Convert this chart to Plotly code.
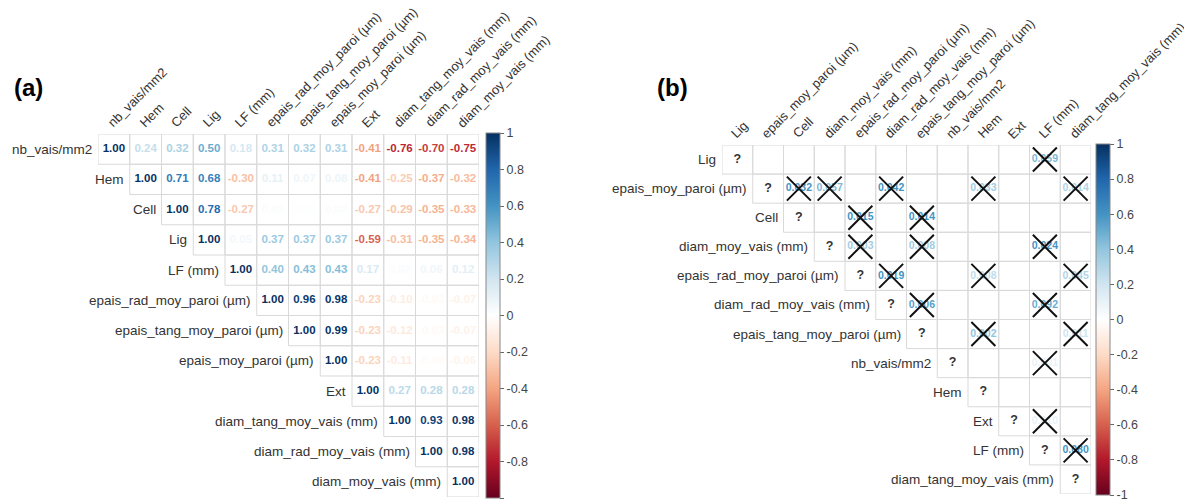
import plotly.graph_objects as go
from plotly.colors import sample_colorscale

# the page body has an 8px margin: work in reference pixels and shift by it
OFF = 8
W, H = 1192 - OFF, 504 - OFF

# ---------------- data ----------------
vars_a = ["nb_vais/mm2", "Hem", "Cell", "Lig", "LF (mm)", "epais_rad_moy_paroi (µm)",
          "epais_tang_moy_paroi (µm)", "epais_moy_paroi (µm)", "Ext",
          "diam_tang_moy_vais (mm)", "diam_rad_moy_vais (mm)", "diam_moy_vais (mm)"]

# upper triangle, row i starts at column i
corr_a = [
    [1.00, 0.24, 0.32, 0.50, 0.18, 0.31, 0.32, 0.31, -0.41, -0.76, -0.70, -0.75],
    [1.00, 0.71, 0.68, -0.30, 0.11, 0.07, 0.08, -0.41, -0.25, -0.37, -0.32],
    [1.00, 0.78, -0.27, 0.02, 0.01, 0.02, -0.27, -0.29, -0.35, -0.33],
    [1.00, 0.05, 0.37, 0.37, 0.37, -0.59, -0.31, -0.35, -0.34],
    [1.00, 0.40, 0.43, 0.43, 0.17, 0.02, 0.06, 0.12],
    [1.00, 0.96, 0.98, -0.23, -0.10, -0.03, -0.07],
    [1.00, 0.99, -0.23, -0.12, -0.03, -0.07],
    [1.00, -0.23, -0.11, -0.02, -0.06],
    [1.00, 0.27, 0.28, 0.28],
    [1.00, 0.93, 0.98],
    [1.00, 0.98],
    [1.00],
]

vars_b = ["Lig", "epais_moy_paroi (µm)", "Cell", "diam_moy_vais (mm)",
          "epais_rad_moy_paroi (µm)", "diam_rad_moy_vais (mm)",
          "epais_tang_moy_paroi (µm)", "nb_vais/mm2", "Hem", "Ext", "LF (mm)",
          "diam_tang_moy_vais (mm)"]

# (b) printed values (row, col, label, colour value) -- all crossed cells
b_row = [0, 1, 1, 1, 1, 1, 2, 2, 3, 3, 3, 4, 4, 4, 5, 5, 6, 6, 7, 9, 10]
b_col = [10, 2, 3, 5, 8, 11, 4, 6, 4, 6, 10, 5, 8, 11, 6, 10, 8, 11, 10, 10, 11]
b_text = ["0.059", "0.032", "0.057", "0.042", "0.033", "0.014", "0.015", "0.014",
          "0.003", "0.008", "0.024", "0.019", "0.008", "0.045", "0.006", "0.092",
          "0.002", "0.011", "0.001", "0.010", "0.080"]
b_shade = [0.45, 0.6, 0.45, 0.6, 0.35, 0.3, 0.6, 0.6, 0.35, 0.35, 0.6, 0.6, 0.25,
           0.3, 0.55, 0.5, 0.4, 0.2, 0.1, 0.1, 0.6]

cbar_ticks = [-1, -0.8, -0.6, -0.4, -0.2, 0, 0.2, 0.4, 0.6, 0.8, 1]
cbar_labels = ["-1", "-0.8", "-0.6", "-0.4", "-0.2", "0", "0.2", "0.4", "0.6", "0.8", "1"]

# ---------------- style ----------------
rdbu = ["#67001F", "#B2182B", "#D6604D", "#F4A582", "#FDDBC7", "#FFFFFF",
        "#D1E5F0", "#92C5DE", "#4393C3", "#2166AC", "#053061"]
cscale = [[i / 10, c] for i, c in enumerate(rdbu)]
FONT = "Liberation Sans, Arial, sans-serif"
LBL = "#333333"
GRID = "#d9d9d9"


def colour(v):
    return sample_colorscale(cscale, [(v + 1) / 2])[0]


def fx(px):          # reference x pixel -> paper fraction
    return (px - OFF) / W


def fy(py):          # reference y pixel -> paper fraction
    return 1 - (py - OFF) / H


fig = go.Figure()

# panel geometry (reference pixels)
A = dict(left=98, right=479, top=134, bottom=497, cb=486)
B = dict(left=722, right=1091, top=145, bottom=494, cb=1096)

n_a = len(vars_a)
n_b = len(vars_b)


def cbar(P, thick):
    return dict(x=fx(P["cb"]), xanchor="left", xpad=0, ypad=0,
                y=fy((P["top"] + P["bottom"]) / 2), yanchor="middle",
                lenmode="pixels", len=P["bottom"] - P["top"] + 2,
                thickness=thick, outlinewidth=1, outlinecolor="#888",
                tickvals=cbar_ticks, ticktext=cbar_labels,
                ticks="outside", ticklen=4, tickcolor="#666",
                tickfont=dict(family=FONT, size=12.5, color="#444"))


# ---------- panel (a) ----------
xa, ya, ta, va = [], [], [], []
for i, row in enumerate(corr_a):
    for k, v in enumerate(row):
        xa.append(i + k)
        ya.append(i)
        ta.append(f"{v:.2f}")
        va.append(v)

fig.add_trace(go.Scatter(
    x=xa, y=ya, mode="markers+text", text=ta, xaxis="x", yaxis="y",
    textposition="middle center",
    textfont=dict(family=FONT, size=11.5, color=[colour(v) for v in va], weight="bold"),
    marker=dict(size=1, opacity=0, color=va, colorscale=cscale, cmin=-1, cmax=1,
                showscale=True, colorbar=cbar(A, 14)),
    hoverinfo="skip", showlegend=False, cliponaxis=False))

# ---------- panel (b) ----------
fig.add_trace(go.Scatter(
    x=b_col, y=b_row, mode="markers+text", text=b_text, xaxis="x2", yaxis="y2",
    textposition="middle center",
    textfont=dict(family=FONT, size=10.5, color=[colour(v) for v in b_shade], weight="bold"),
    marker=dict(size=1, opacity=0, color=b_shade, colorscale=cscale, cmin=-1, cmax=1,
                showscale=True, colorbar=cbar(B, 14)),
    hoverinfo="skip", showlegend=False, cliponaxis=False))

# diagonal '?'
fig.add_trace(go.Scatter(
    x=list(range(n_b)), y=list(range(n_b)), mode="text", text=["?"] * n_b,
    xaxis="x2", yaxis="y2",
    textfont=dict(family=FONT, size=12.5, color="#333", weight="bold"),
    hoverinfo="skip", showlegend=False, cliponaxis=False))

# crosses
fig.add_trace(go.Scatter(
    x=b_col, y=b_row, mode="markers", xaxis="x2", yaxis="y2",
    marker=dict(symbol="x-thin", size=24, line=dict(width=2, color="#111")),
    hoverinfo="skip", showlegend=False, cliponaxis=False))

# ---------- grid cells ----------
shapes = []
for n, xr, yr in [(n_a, "x", "y"), (n_b, "x2", "y2")]:
    for i in range(n):
        for j in range(i, n):
            shapes.append(dict(type="rect", xref=xr, yref=yr, x0=j - 0.5, x1=j + 0.5,
                               y0=i - 0.5, y1=i + 0.5, line=dict(color=GRID, width=1),
                               layer="below"))

# ---------- labels ----------
ann = []
for names, xr, yr in [(vars_a, "x", "y"), (vars_b, "x2", "y2")]:
    for i, nm in enumerate(names):
        ann.append(dict(x=i - 0.5, y=i, xref=xr, yref=yr, text=nm, showarrow=False,
                        xanchor="right", yanchor="middle", xshift=-4,
                        font=dict(family=FONT, size=13.5, color=LBL)))
        ann.append(dict(x=i, y=-0.5, xref=xr, yref=yr, text=nm, showarrow=False,
                        xanchor="left", yanchor="bottom", textangle=-45,
                        xshift=-12, yshift=1,
                        font=dict(family=FONT, size=13, color=LBL)))

for lab, px in [("(a)", 12), ("(b)", 655)]:
    ann.append(dict(x=fx(px), y=fy(88), xref="paper", yref="paper", text=f"<b>{lab}</b>",
                    showarrow=False, xanchor="left", yanchor="middle",
                    font=dict(family=FONT, size=24, color="#000")))

ax_common = dict(visible=False, showgrid=False, zeroline=False, fixedrange=True)
fig.update_layout(
    width=W, height=H, margin=dict(l=0, r=0, t=0, b=0),
    paper_bgcolor="white", plot_bgcolor="rgba(0,0,0,0)",
    xaxis=dict(domain=[fx(A["left"]), fx(A["right"])], range=[-0.5, n_a - 0.5], **ax_common),
    yaxis=dict(domain=[fy(A["bottom"]), fy(A["top"])], range=[n_a - 0.5, -0.5], **ax_common),
    xaxis2=dict(domain=[fx(B["left"]), fx(B["right"])], range=[-0.5, n_b - 0.5],
                anchor="y2", **ax_common),
    yaxis2=dict(domain=[fy(B["bottom"]), fy(B["top"])], range=[n_b - 0.5, -0.5],
                anchor="x2", **ax_common),
    shapes=shapes, annotations=ann, showlegend=False,
)

fig.write_html("out.html")
